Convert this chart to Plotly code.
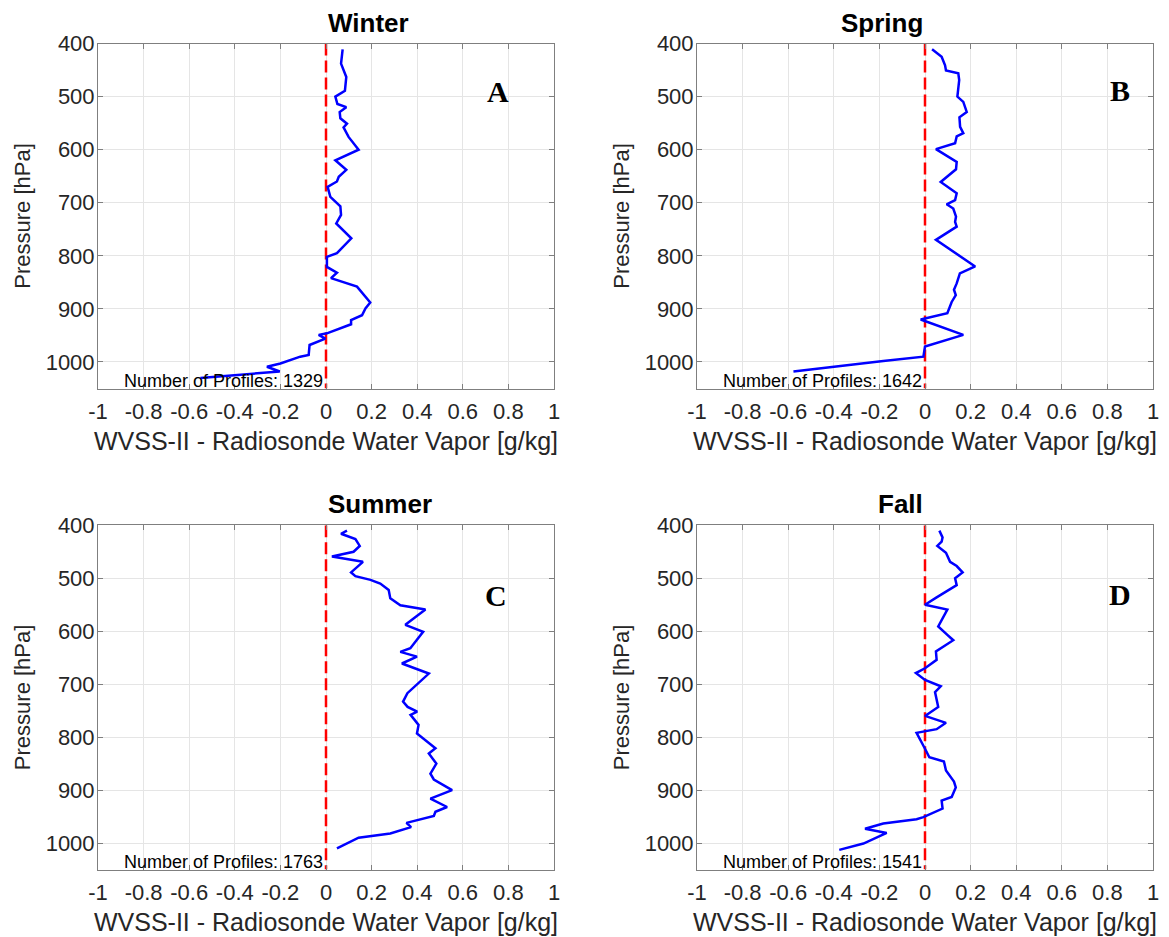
import plotly.graph_objects as go

# ---------------- data ----------------
winter_x = [0.073, 0.066, 0.089, 0.083, 0.041, 0.05, 0.089, 0.06, 0.063, 0.092, 0.077, 0.099, 0.143,
            0.041, 0.089, 0.056, 0.048, 0.007, 0.019, 0.063, 0.066, 0.045, 0.111, 0.063, 0.048, 0.004,
            0.004, 0.048, 0.022, 0.136, 0.194, 0.173, 0.158, 0.11, 0.11, 0.004, -0.032, -0.003, -0.039,
            -0.072, -0.076, -0.113, -0.2, -0.259, -0.203, -0.551]
winter_p = [411, 438, 463, 489, 500, 514, 520, 529, 541, 551, 558, 576, 600,
            620, 638, 651, 660, 670, 689, 707, 723, 739, 767, 789, 795, 802,
            821, 832, 842, 858, 888, 899, 912, 921, 929, 946, 949, 956, 962,
            968, 987, 990, 1003, 1009, 1018, 1030]

spring_x = [0.031, 0.073, 0.088, 0.092, 0.146, 0.15, 0.142, 0.168, 0.183, 0.151, 0.154, 0.168, 0.139,
            0.132, 0.048, 0.139, 0.136, 0.069, 0.139, 0.132, 0.095, 0.124, 0.136, 0.132, 0.139, 0.048,
            0.22, 0.153, 0.139, 0.127, 0.135, 0.117, 0.098, -0.019, 0.168, 0.0, -0.007, -0.183, -0.577]
spring_p = [411, 425, 441, 451, 456, 469, 500, 510, 529, 539, 557, 569, 575,
            588, 599, 623, 637, 661, 682, 695, 703, 711, 726, 736, 745, 770,
            820, 833, 852, 864, 874, 887, 908, 920, 949, 971, 990, 998, 1018]

summer_x = [0.092, 0.066, 0.129, 0.148, 0.121, 0.026, 0.162, 0.11, 0.129, 0.195, 0.238, 0.275, 0.282,
            0.297, 0.326, 0.436, 0.392, 0.348, 0.426, 0.392, 0.37, 0.326, 0.399, 0.333, 0.451, 0.357,
            0.338, 0.358, 0.4, 0.371, 0.406, 0.399, 0.436, 0.48, 0.451, 0.484, 0.458, 0.473, 0.553,
            0.458, 0.531, 0.48, 0.473, 0.353, 0.373, 0.282, 0.143, 0.048]
summer_p = [410, 416, 426, 439, 450, 459, 469, 489, 496, 503, 510, 522, 538,
            542, 551, 559, 573, 588, 601, 620, 632, 639, 648, 661, 680, 717,
            733, 743, 752, 758, 777, 793, 806, 821, 831, 850, 869, 880, 900,
            916, 932, 941, 949, 962, 970, 982, 990, 1010]

fall_x = [0.063, 0.077, 0.073, 0.054, 0.092, 0.11, 0.139, 0.165, 0.132, 0.139, 0.051, 0.0, 0.098,
          0.058, 0.098, 0.124, 0.048, 0.051, 0.0, -0.04, 0.0, 0.069, 0.044, 0.058, 0.0, 0.092,
          0.051, -0.037, 0.0, 0.019, 0.083, 0.092, 0.127, 0.135, 0.117, 0.073, 0.077, -0.007,
          -0.037, -0.183, -0.263, -0.168, -0.27, -0.376]
fall_p = [410, 423, 431, 439, 452, 469, 477, 489, 500, 513, 536, 550, 559,
          591, 607, 617, 638, 654, 670, 679, 692, 704, 715, 743, 760, 773,
          785, 792, 822, 838, 846, 863, 884, 895, 913, 920, 935, 951,
          955, 963, 973, 981, 1001, 1013]

titles = ["Winter", "Spring", "Summer", "Fall"]
letters = ["A", "B", "C", "D"]
profile_counts = [1329, 1642, 1763, 1541]
x_ticks = [-1, -0.8, -0.6, -0.4, -0.2, 0, 0.2, 0.4, 0.6, 0.8, 1]
x_tick_labels = ["-1", "-0.8", "-0.6", "-0.4", "-0.2", "0", "0.2", "0.4", "0.6", "0.8", "1"]
y_ticks = [400, 500, 600, 700, 800, 900, 1000]

series = [(winter_x, winter_p), (spring_x, spring_p), (summer_x, summer_p), (fall_x, fall_p)]

# ---------------- layout ----------------
W, H = 1169, 937
OFF = 8  # page body margin offset compensation
xdoms = [((98 - OFF) / W, (554 - OFF) / W), ((697 - OFF) / W, (1153 - OFF) / W)]
ydoms = [(1 - (388.5 - OFF) / H, 1 - (43.5 - OFF) / H), (1 - (869.5 - OFF) / H, 1 - (525.3 - OFF) / H)]
letter_pos = [(0.756, 490), (0.855, 489), (0.747, 533), (0.855, 530)]

FONT = "Liberation Sans, Arial, Helvetica, sans-serif"
fig = go.Figure()

for i in range(4):
    r, c = divmod(i, 2)
    n = i + 1
    xa = "x" if n == 1 else f"x{n}"
    ya = "y" if n == 1 else f"y{n}"
    xs, ps = series[i]
    fig.add_trace(go.Scatter(x=[0, 0], y=[400, 1050], mode="lines",
                             line=dict(color="#ff0000", width=2.5, dash="12px,5px"),
                             xaxis=xa, yaxis=ya, showlegend=False, hoverinfo="skip"))
    fig.add_trace(go.Scatter(x=xs, y=ps, mode="lines",
                             line=dict(color="#0000ff", width=2.5),
                             xaxis=xa, yaxis=ya, showlegend=False))
    axis_common = dict(showline=True, linecolor="#7f7f7f", linewidth=1, mirror="ticks",
                       ticks="inside", ticklen=5, tickcolor="#7f7f7f", automargin=False,
                       showgrid=True, gridcolor="#e5e5e5", gridwidth=1, zeroline=False,
                       tickfont=dict(family=FONT, size=22, color="#262626"))
    fig.update_layout(**{
        ("xaxis" if n == 1 else f"xaxis{n}"): dict(
            domain=list(xdoms[c]), anchor=ya, range=[-1, 1],
            tickvals=x_ticks, ticktext=x_tick_labels, ticklabelstandoff=3,
            title=dict(text="WVSS-II - Radiosonde Water Vapor [g/kg]",
                       font=dict(family=FONT, size=25, color="#262626"), standoff=9),
            **axis_common),
        ("yaxis" if n == 1 else f"yaxis{n}"): dict(
            domain=list(ydoms[r]), anchor=xa, range=[1050, 400],
            tickvals=y_ticks, ticklabelstandoff=-2,
            title=dict(text="Pressure [hPa]",
                       font=dict(family=FONT, size=22, color="#262626"), standoff=8),
            **axis_common),
    })
    # subplot title
    fig.add_annotation(x=(xdoms[c][0] + xdoms[c][1]) / 2, y=ydoms[r][1], xref="paper", yref="paper",
                       text=f"<b>{titles[i]}</b>", showarrow=False, yanchor="bottom", yshift=4,
                       font=dict(family=FONT, size=26, color="#000000"))
    # panel letter
    fig.add_annotation(x=letter_pos[i][0], y=letter_pos[i][1], xref=xa, yref=ya,
                       text=f"<b>{letters[i]}</b>", showarrow=False,
                       font=dict(family="Liberation Serif, Times New Roman, serif", size=30, color="#000000"))
    # number of profiles
    fig.add_annotation(x=-0.895, y=1036, xref=xa, yref=ya, xanchor="left",
                       text=f"Number of Profiles: {profile_counts[i]}", showarrow=False,
                       font=dict(family=FONT, size=18, color="#000000"))

fig.update_layout(width=W, height=H, margin=dict(l=0, r=0, t=0, b=0),
                  paper_bgcolor="white", plot_bgcolor="white", showlegend=False)

fig.write_html("out.html")
